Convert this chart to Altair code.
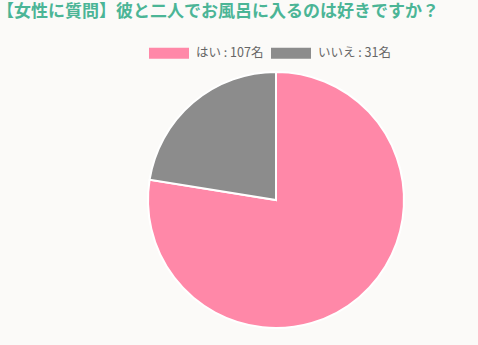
import altair as alt
import pandas as pd

labels = ["はい : 107名", "いいえ : 31名"]
values = [107, 31]
colors = ["#FF88A8", "#8C8C8C"]
order = [0, 1]

df = pd.DataFrame({"label": labels, "value": values, "order": order})

swatch = "M-1,-0.275 L1,-0.275 L1,0.275 L-1,0.275 Z"

chart = alt.Chart(df).mark_arc(stroke="white", strokeWidth=2, radius=128).encode(
    theta=alt.Theta("value:Q", stack=True),
    order=alt.Order("order:Q"),
    x=alt.value(276),
    y=alt.value(175),
    color=alt.Color(
        "label:N",
        scale=alt.Scale(domain=labels, range=colors),
        legend=alt.Legend(
            title=None,
            orient="none",
            direction="horizontal",
            legendX=149,
            legendY=8,
            symbolType=swatch,
            symbolSize=1600,
            symbolStrokeWidth=0,
            symbolOpacity=1,
            labelFont="Noto Sans CJK JP",
            labelFontSize=12.5,
            labelColor="#666666",
            labelOffset=7,
            columnPadding=7,
            padding=0,
        ),
    ),
).properties(
    width=478,
    height=320,
    background="#FBFAF8",
    padding={"left": 0, "top": 25, "right": 0, "bottom": 0},
    autosize=alt.AutoSizeParams(type="none"),
    title=alt.TitleParams(
        "【女性に質問】彼と二人でお風呂に入るのは好きですか？",
        anchor="start",
        frame="bounds",
        font="Noto Sans CJK JP",
        fontSize=17,
        fontWeight="bold",
        color="#4BB596",
        offset=4,
        dx=-3,
    ),
).configure_view(stroke=None)

chart.save("out.html", embed_options={"renderer": "svg", "actions": False})
